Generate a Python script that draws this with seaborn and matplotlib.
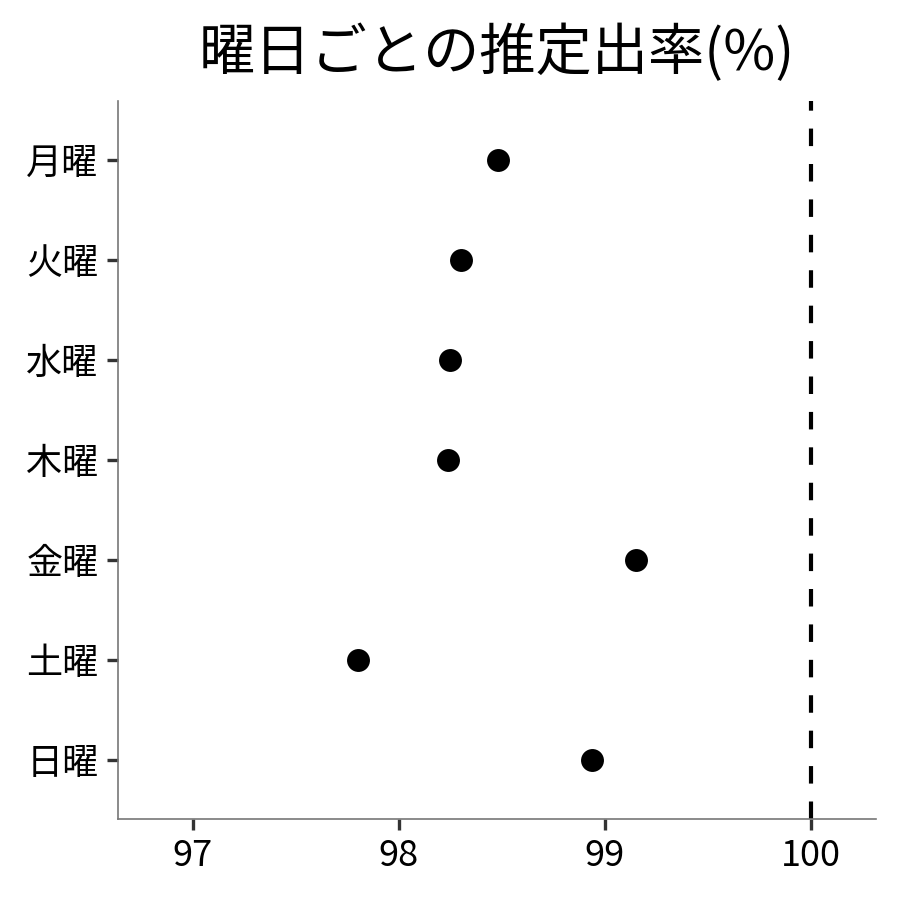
import matplotlib
matplotlib.use("Agg")
import matplotlib.pyplot as plt
import seaborn as sns
import pandas as pd

# data
days = ["月曜", "火曜", "水曜", "木曜", "金曜", "土曜", "日曜"]
rate = [98.48, 98.30, 98.25, 98.24, 99.15, 97.80, 98.94]
ref_line = 100
x_ticks = [97, 98, 99, 100]

sns.set_style("white")
plt.rcParams["font.family"] = ["Noto Sans CJK JP", "DejaVu Sans"]

df = pd.DataFrame({"day": days, "rate": rate})

fig, ax = plt.subplots(figsize=(9, 9), dpi=100)
fig.subplots_adjust(left=0.131, right=0.973, bottom=0.09, top=0.888)

sns.stripplot(data=df, x="rate", y="day", order=days, jitter=False,
              color="black", size=16.5, linewidth=0, ax=ax)
ax.axvline(ref_line, color="black", lw=3.0, linestyle=(0, (4.2, 4.3)), zorder=0)

ax.set_xlim(96.636, 100.316)
ax.set_ylim(6.59, -0.59)
ax.set_xticks(x_ticks)
ax.set_xticklabels([str(t) for t in x_ticks])
ax.set_xlabel("")
ax.set_ylabel("")
ax.set_title("曜日ごとの推定出率(%)", fontsize=40.5, pad=22, color="black")

sns.despine(ax=ax)
for side in ["left", "bottom"]:
    ax.spines[side].set_color("#777777")
    ax.spines[side].set_linewidth(1.2)
ax.tick_params(axis="both", which="major", length=8, width=2.4,
               color="#333333", labelsize=26, labelcolor="black", pad=6,
               bottom=True, left=True)

fig.savefig("out.png", dpi=100)
